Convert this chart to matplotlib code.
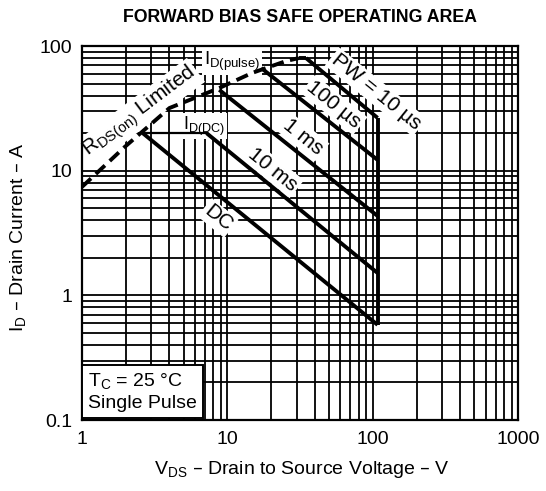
import matplotlib.pyplot as plt
from matplotlib.ticker import FixedLocator, NullFormatter

plt.rcParams['font.family'] = ['Liberation Sans', 'DejaVu Sans']

# RDS(on) limit (dashed) and ID(pulse) cap
rds_v = [1, 1.97, 4.0, 8.8, 14.8, 25.4, 31]
rds_i = [7.4, 15.5, 31.8, 46, 60.8, 75.8, 80]
pulse_v = [31, 34.8]
pulse_i = [80, 80]

# ID(DC) cap
iddc_v = [2.62, 7.2]
iddc_i = [20, 20]

# pulse width lines: start and end points
pw_names = ['PW = 10 µs', '100 µs', '1 ms', '10 ms', 'DC']
pw_v = [[34.8, 108], [17.1, 108], [8.8, 108], [7.2, 108], [2.62, 108]]
pw_i = [[80, 26.5], [66.6, 12.2], [44.5, 4.33], [20, 1.51], [20, 0.58]]

# VDSS limit
vmax_v = [108, 108]
vmax_i = [26.5, 0.58]

x_ticks = [1, 10, 100, 1000]
x_labels = ['1', '10', '100', '1000']
y_ticks = [0.1, 1, 10, 100]
y_labels = ['0.1', '1', '10', '100']

fig = plt.figure(figsize=(5.46, 4.91), dpi=100)
ax = fig.add_axes([0.150, 0.1446, 0.799, 0.7617])
ax.set_xscale('log')
ax.set_yscale('log')
ax.set_xlim(1, 1000)
ax.set_ylim(0.1, 100)

ax.set_xticks(x_ticks)
ax.set_xticklabels(x_labels)
ax.set_yticks(y_ticks)
ax.set_yticklabels(y_labels)
minors = [m * 10 ** e for e in range(-1, 3) for m in range(2, 10)]
ax.xaxis.set_minor_locator(FixedLocator(minors))
ax.yaxis.set_minor_locator(FixedLocator(minors))
ax.xaxis.set_minor_formatter(NullFormatter())
ax.yaxis.set_minor_formatter(NullFormatter())
ax.tick_params(which='both', length=0, labelsize=14)
ax.tick_params(axis='x', pad=8)
ax.tick_params(axis='y', pad=7)
ax.grid(True, which='both', color='black', linewidth=1.3)
for s in ax.spines.values():
    s.set_linewidth(1.6)

lw = 2.8
ax.plot(rds_v, rds_i, color='black', lw=lw, ls=(0, (3.2, 1.7)), zorder=3)
ax.plot(pulse_v, pulse_i, color='black', lw=lw, ls=(0, (3.2, 1.7)), zorder=3)
ax.plot(iddc_v, iddc_i, color='black', lw=1.6, zorder=3)
for v, i in zip(pw_v, pw_i):
    ax.plot(v, i, color='black', lw=lw, solid_capstyle='butt', zorder=3)
ax.plot(vmax_v, vmax_i, color='black', lw=lw, solid_capstyle='butt', zorder=3)

wbox = dict(boxstyle='square,pad=0.1', fc='white', ec='none')
lab_pos = [(376, 92), (334, 105), (303, 137), (273, 170), (218, 218)]
for name, (px, py) in zip(pw_names, lab_pos):
    ax.text(px / 546, 1 - py / 491, name, fontsize=15, rotation=-39,
            ha='center', va='center', bbox=wbox, zorder=2.5,
            transform=fig.transFigure)

ax.text(140 / 546, 1 - 112 / 491, r'R$_{\mathregular{DS(on)}}$ Limited', fontsize=15,
        rotation=37, ha='center', va='center', bbox=wbox, zorder=2.5,
        transform=fig.transFigure)
ax.text(232 / 546, 1 - 61 / 491, r'I$_{\mathregular{D(pulse)}}$', fontsize=13.5,
        ha='center', va='center', bbox=wbox, zorder=2.5, transform=fig.transFigure)
ax.text(204 / 546, 1 - 126 / 491, r'I$_{\mathregular{D(DC)}}$', fontsize=13,
        ha='center', va='center', bbox=wbox, zorder=2.5, transform=fig.transFigure)

ax.text(0.014, 0.022, 'T$_{\\mathregular{C}}$ = 25 °C\nSingle Pulse', transform=ax.transAxes,
        fontsize=14, ha='left', va='bottom', linespacing=1.2,
        bbox=dict(boxstyle='square,pad=0.3', fc='white', ec='black', lw=1.4), zorder=6)

fig.text(300 / 546, 1 - 18 / 491, 'FORWARD BIAS SAFE OPERATING AREA', fontsize=12.8,
         fontweight='bold', ha='center', va='center')
fig.text(302 / 546, 1 - 470 / 491, r'V$_{\mathregular{DS}}$ – Drain to Source Voltage – V',
         fontsize=14, ha='center', va='center')
fig.text(19 / 546, 1 - 237 / 491, r'I$_{\mathregular{D}}$ – Drain Current – A',
         fontsize=14, ha='center', va='center', rotation=90)

fig.savefig('out.png', dpi=100)
